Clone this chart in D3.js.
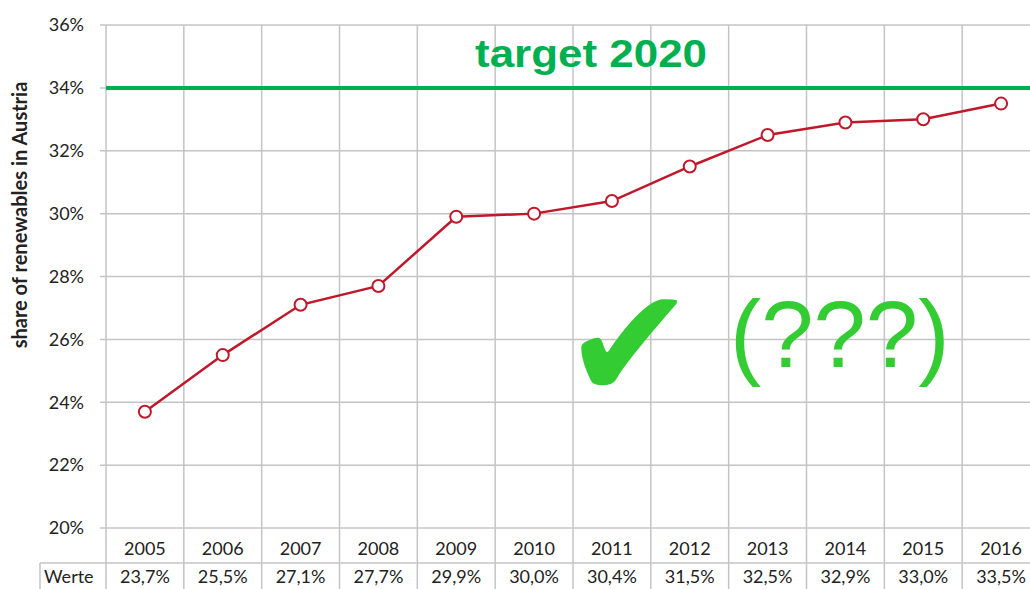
<!DOCTYPE html>
<html>
<head>
  <meta charset="utf-8">
  <title>share of renewables in Austria</title>
  <style>
    body { margin: 0; background: #fff; }
    #chart { display: block; }
    .grid line { stroke: #c4c4c4; stroke-width: 1.5; }
    .tick-label, .cell { font-family: Lato, "Noto Sans", sans-serif; font-size: 18px; fill: #222; }
  </style>
</head>
<body>
  <svg id="chart"></svg>

  <script src="https://d3js.org/d3.v7.min.js"></script>
  <script>
    // Daten
    const years = ["2005", "2006", "2007", "2008", "2009", "2010", "2011", "2012", "2013", "2014", "2015", "2016"];
    const shares = [23.7, 25.5, 27.1, 27.7, 29.9, 30.0, 30.4, 31.5, 32.5, 32.9, 33.0, 33.5];
    const yTicks = [20, 22, 24, 26, 28, 30, 32, 34, 36];
    const target = 34;

    const width = 1030, height = 589;
    const plot = { left: 106, right: 1040, top: 25, bottom: 528 };

    const svg = d3.select("#chart")
      .attr("width", width)
      .attr("height", height);

    const x = d3.scaleBand()
      .domain(years)
      .range([plot.left, plot.right]);

    const y = d3.scaleLinear()
      .domain([20, 36])
      .range([plot.bottom, plot.top]);

    const grid = svg.append("g").attr("class", "grid");

    // horizontale Gitterlinien (mit kleinem Tick links)
    grid.selectAll(".h")
      .data(yTicks)
      .enter()
      .append("line")
      .attr("x1", plot.left - 6)
      .attr("x2", width)
      .attr("y1", d => y(d))
      .attr("y2", d => y(d));

    // vertikale Gitterlinien, laufen durch die Tabelle
    grid.selectAll(".v")
      .data(years)
      .enter()
      .append("line")
      .attr("x1", d => x(d))
      .attr("x2", d => x(d))
      .attr("y1", plot.top)
      .attr("y2", height);

    // Tabellenlinien
    grid.append("line")
      .attr("x1", 40).attr("x2", width)
      .attr("y1", 563).attr("y2", 563);
    grid.append("line")
      .attr("x1", 40).attr("x2", 40)
      .attr("y1", 563).attr("y2", height);

    // y Achse Beschriftung
    svg.selectAll(".tick-label")
      .data(yTicks)
      .enter()
      .append("text")
      .attr("class", "tick-label")
      .attr("x", 84)
      .attr("y", d => y(d))
      .attr("dy", "0.35em")
      .attr("text-anchor", "end")
      .text(d => d + "%");

    svg.append("text")
      .attr("transform", "translate(27, 215) rotate(-90)")
      .attr("text-anchor", "middle")
      .style("font-family", "Lato, sans-serif")
      .style("font-weight", "bold")
      .style("font-size", "20px")
      .style("fill", "#222")
      .text("share of renewables in Austria");

    // Zielwert 2020
    svg.append("line")
      .attr("x1", plot.left)
      .attr("x2", width)
      .attr("y1", y(target))
      .attr("y2", y(target))
      .attr("stroke", "#00b050")
      .attr("stroke-width", 4);

    svg.append("text")
      .attr("x", 475)
      .attr("y", 67)
      .attr("textLength", 232)
      .attr("lengthAdjust", "spacingAndGlyphs")
      .style("font-family", "Liberation Sans, Arial, sans-serif")
      .style("font-weight", "bold")
      .style("font-size", "38px")
      .style("fill", "#00b050")
      .text("target 2020");

    // Linie + Punkte
    const line = d3.line()
      .x((d, i) => x(years[i]) + x.bandwidth() / 2)
      .y(d => y(d));

    svg.append("path")
      .datum(shares)
      .attr("d", line)
      .attr("fill", "none")
      .attr("stroke", "#c0182a")
      .attr("stroke-width", 2.5);

    svg.selectAll(".dot")
      .data(shares)
      .enter()
      .append("circle")
      .attr("class", "dot")
      .attr("cx", (d, i) => x(years[i]) + x.bandwidth() / 2)
      .attr("cy", d => y(d))
      .attr("r", 6)
      .attr("fill", "#fff")
      .attr("stroke", "#c0182a")
      .attr("stroke-width", 2);

    // Haken und Fragezeichen
    svg.append("text")
      .attr("x", 563)
      .attr("y", 399)
      .style("font-family", "DejaVu Sans, sans-serif")
      .style("font-size", "158px")
      .style("fill", "#33cc33")
      .text("\u2714");

    svg.append("text")
      .attr("x", 730)
      .attr("y", 367)
      .style("font-family", "Liberation Sans, Arial, sans-serif")
      .style("font-size", "94px")
      .style("fill", "#33cc33")
      .text("(???)");

    // Tabelle unten
    svg.selectAll(".year")
      .data(years)
      .enter()
      .append("text")
      .attr("class", "cell")
      .attr("x", d => x(d) + x.bandwidth() / 2)
      .attr("y", 555)
      .attr("text-anchor", "middle")
      .text(d => d);

    svg.selectAll(".val")
      .data(shares)
      .enter()
      .append("text")
      .attr("class", "cell")
      .attr("x", (d, i) => x(years[i]) + x.bandwidth() / 2)
      .attr("y", 583)
      .attr("text-anchor", "middle")
      .text(d => d.toFixed(1).replace(".", ",") + "%");

    svg.append("text")
      .attr("class", "cell")
      .attr("x", 44)
      .attr("y", 583)
      .text("Werte");
  </script>
</body>
</html>
